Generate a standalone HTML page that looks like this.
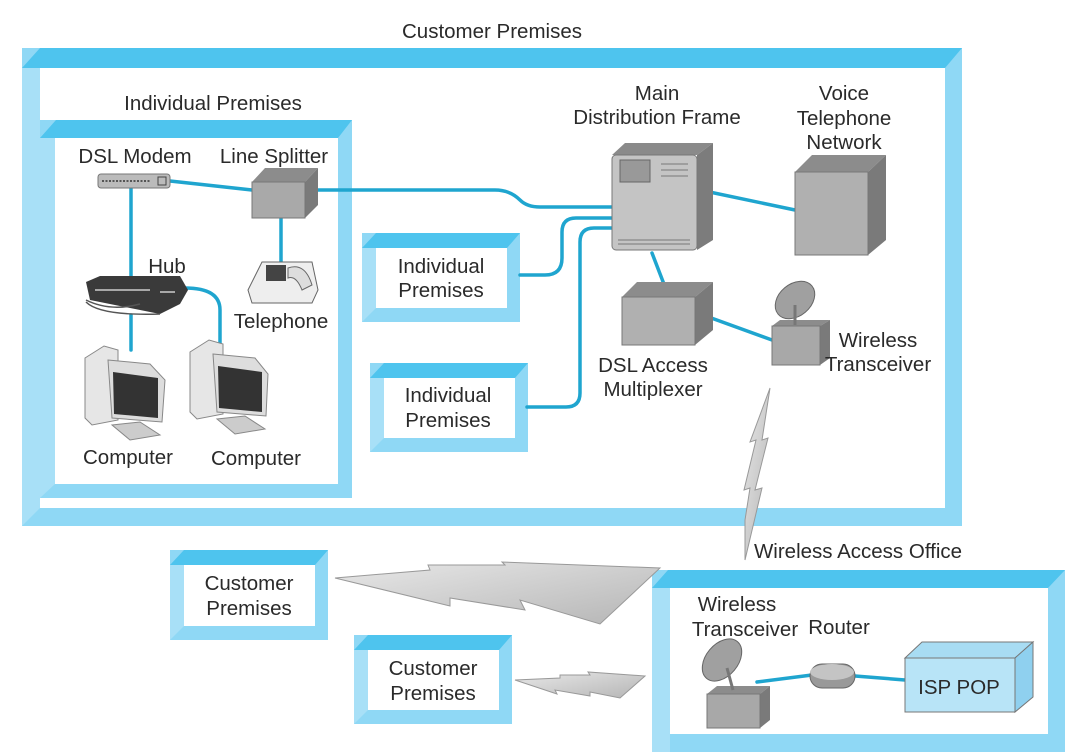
<!DOCTYPE html>
<html><head><meta charset="utf-8"><style>
html,body{margin:0;padding:0;background:#fff;}
svg{display:block;}
text{font-family:"Liberation Sans",sans-serif;font-size:20.5px;fill:#2a2a2a;text-anchor:middle;}
</style></head><body>
<svg width="1080" height="752" viewBox="0 0 1080 752" xmlns="http://www.w3.org/2000/svg">
<defs>
<linearGradient id="bolt" x1="0" y1="0" x2="1" y2="1"><stop offset="0" stop-color="#e8e8e8"/><stop offset="1" stop-color="#b5b5b5"/></linearGradient>
</defs>

<rect x="22" y="48" width="940" height="478" fill="#8fd8f5"/>
<polygon points="22,68 40,48 962,48 945,68" fill="#4ec4ee"/>
<polygon points="22,68 40,68 40,508 22,526" fill="#a8e0f7"/>
<rect x="40" y="68" width="905" height="440" fill="#fff"/>

<rect x="40" y="120" width="312" height="378" fill="#8fd8f5"/>
<polygon points="40,138 56,120 352,120 338,138" fill="#4ec4ee"/>
<polygon points="40,138 55,138 55,484 40,498" fill="#a8e0f7"/>
<rect x="55" y="138" width="283" height="346" fill="#fff"/>

<g>
<rect x="362" y="233" width="158" height="89" fill="#8fd8f5"/>
<polygon points="362,248 376,233 520,233 507,248" fill="#4ec4ee"/>
<polygon points="362,248 376,248 376,308 362,322" fill="#a8e0f7"/>
<rect x="376" y="248" width="131" height="60" fill="#fff"/>
</g>
<g>
<rect x="370" y="363" width="158" height="89" fill="#8fd8f5"/>
<polygon points="370,378 384,363 528,363 515,378" fill="#4ec4ee"/>
<polygon points="370,378 384,378 384,438 370,452" fill="#a8e0f7"/>
<rect x="384" y="378" width="131" height="60" fill="#fff"/>
</g>
<g>
<rect x="170" y="550" width="158" height="90" fill="#8fd8f5"/>
<polygon points="170,565 184,550 328,550 315,565" fill="#4ec4ee"/>
<polygon points="170,565 184,565 184,626 170,640" fill="#a8e0f7"/>
<rect x="184" y="565" width="131" height="61" fill="#fff"/>
</g>
<g>
<rect x="354" y="635" width="158" height="89" fill="#8fd8f5"/>
<polygon points="354,650 368,635 512,635 499,650" fill="#4ec4ee"/>
<polygon points="354,650 368,650 368,710 354,724" fill="#a8e0f7"/>
<rect x="368" y="650" width="131" height="60" fill="#fff"/>
</g>
<rect x="652" y="570" width="413" height="182" fill="#8fd8f5"/>
<polygon points="652,588 668,570 1065,570 1048,588" fill="#4ec4ee"/>
<polygon points="652,588 670,588 670,752 652,752" fill="#a8e0f7"/>
<rect x="670" y="588" width="378" height="146" fill="#fff"/>

<g fill="none" stroke="#1fa5cf" stroke-width="3.5" stroke-linecap="round">
<path d="M170,181 L252,190"/>
<path d="M305,190 L495,190 Q510,190 520,200 Q527,207 540,207 L612,207"/>
<path d="M520,275 L545,275 Q562,275 562,258 L562,232 Q562,218 576,218 L612,218"/>
<path d="M527,407 L566,407 Q580,407 580,393 L580,242 Q580,228 594,228 L612,228"/>
<path d="M700,190 L795,210"/>
<path d="M652,253 L667,292"/>
<path d="M703,315 L772,340"/>
<path d="M131,188 L131,280"/>
<path d="M131,315 L131,350"/>
<path d="M185,288 Q220,288 220,310 L220,345"/>
<path d="M281,218 L281,262"/>
<path d="M757,682 L812,675"/>
<path d="M855,676 L905,680"/>
</g>

<rect x="98" y="174" width="72" height="14" rx="3" fill="#bbb" stroke="#777"/>
<rect x="158" y="177" width="8" height="8" fill="none" stroke="#444"/>
<line x1="102" y1="181" x2="150" y2="181" stroke="#555" stroke-dasharray="2,1.5" stroke-width="2"/>

<polygon points="252,182 265,168 318,168 305,182" fill="#8c8c8c"/>
<polygon points="305,182 318,168 318,205 305,218" fill="#7a7a7a"/>
<rect x="252" y="182" width="53" height="36" fill="#a9a9a9" stroke="#777"/>

<polygon points="248,290 262,262 312,262 318,290 312,303 252,303" fill="#eee" stroke="#666"/>
<rect x="266" y="265" width="20" height="16" fill="#444"/>
<path d="M288,268 Q305,262 312,285 L302,290 Q296,275 288,278Z" fill="#ddd" stroke="#666"/>

<polygon points="86,282 100,276 180,276 188,290 180,304 160,314 90,300" fill="#3a3a3a"/>
<g stroke="#ccc" stroke-width="1.5"><line x1="95" y1="290" x2="150" y2="290"/><line x1="160" y1="292" x2="175" y2="292"/></g>
<path d="M86,300 Q110,312 140,304" stroke="#555" stroke-width="1.5" fill="none"/>
<path d="M86,302 Q100,316 160,314" stroke="#555" stroke-width="1.5" fill="none"/>

<g>
<polygon points="85,358 104,346 118,350 118,420 92,425 85,418" fill="#e6e6e6" stroke="#888"/>
<polygon points="108,360 150,364 165,380 162,422 112,418" fill="#ddd" stroke="#888"/>
<polygon points="113,372 158,378 158,418 114,414" fill="#333"/>
<polygon points="112,425 140,422 160,435 130,440" fill="#ccc" stroke="#888"/>
</g>
<g>
<polygon points="190,352 209,340 223,344 223,414 197,419 190,412" fill="#e6e6e6" stroke="#888"/>
<polygon points="213,354 255,358 268,374 266,416 217,412" fill="#ddd" stroke="#888"/>
<polygon points="218,366 262,372 262,412 219,408" fill="#333"/>
<polygon points="217,419 245,416 265,429 235,434" fill="#ccc" stroke="#888"/>
</g>

<polygon points="612,155 625,143 713,143 697,155" fill="#8a8a8a"/>
<polygon points="697,155 713,143 713,240 697,250" fill="#7c7c7c"/>
<rect x="612" y="155" width="85" height="95" rx="4" fill="#c4c4c4" stroke="#777"/>
<rect x="620" y="160" width="30" height="22" fill="#999" stroke="#666"/>
<g stroke="#777"><line x1="661" y1="164" x2="688" y2="164"/><line x1="661" y1="170" x2="688" y2="170"/><line x1="661" y1="176" x2="688" y2="176"/><line x1="618" y1="240" x2="690" y2="240"/><line x1="618" y1="244" x2="690" y2="244"/></g>

<polygon points="795,172 812,155 886,155 868,172" fill="#8c8c8c"/>
<polygon points="868,172 886,155 886,240 868,255" fill="#7a7a7a"/>
<rect x="795" y="172" width="73" height="83" fill="#b0b0b0" stroke="#777"/>

<polygon points="622,297 637,282 713,282 695,297" fill="#8c8c8c"/>
<polygon points="695,297 713,282 713,330 695,345" fill="#7a7a7a"/>
<rect x="622" y="297" width="73" height="48" fill="#b0b0b0" stroke="#777"/>

<polygon points="772,326 780,320 830,320 820,326" fill="#8c8c8c"/>
<polygon points="820,326 830,320 830,358 820,365" fill="#7a7a7a"/>
<rect x="772" y="326" width="48" height="39" fill="#a8a8a8" stroke="#777"/>
<ellipse cx="795" cy="300" rx="22" ry="16" transform="rotate(-40 795 300)" fill="#a0a0a0" stroke="#666"/>
<line x1="795" y1="305" x2="795" y2="325" stroke="#777" stroke-width="3"/>

<polygon points="707,694 717,686 770,686 760,694" fill="#8c8c8c"/>
<polygon points="760,694 770,686 770,720 760,728" fill="#7a7a7a"/>
<rect x="707" y="694" width="53" height="34" fill="#a8a8a8" stroke="#777"/>
<ellipse cx="722" cy="660" rx="24" ry="16" transform="rotate(-50 722 660)" fill="#a0a0a0" stroke="#666"/>
<line x1="727" y1="668" x2="733" y2="690" stroke="#777" stroke-width="3"/>

<rect x="810" y="664" width="45" height="24" rx="12" fill="#999" stroke="#666"/>
<ellipse cx="832" cy="672" rx="22" ry="8" fill="#c4c4c4"/>

<polygon points="905,658 922,642 1033,642 1015,658" fill="#a8dcf3" stroke="#777"/>
<polygon points="1015,658 1033,642 1033,697 1015,712" fill="#8fd0ef" stroke="#777"/>
<rect x="905" y="658" width="110" height="54" fill="#b8e4f7" stroke="#777"/>

<polygon points="770,388 762,440 768,438 755,490 762,488 745,560 745,520 750,488 744,490 756,440 750,442" fill="url(#bolt)" stroke="#999"/>
<polygon points="335,578 430,570 428,565 505,565 502,562 660,568 600,624 520,600 525,610 450,598 450,606" fill="url(#bolt)" stroke="#999"/>
<polygon points="515,680 560,678 560,675 590,675 588,672 645,676 620,698 590,692 590,696 555,690 557,694" fill="url(#bolt)" stroke="#999"/>

<text x="492" y="38">Customer Premises</text>
<text x="213" y="110">Individual Premises</text>
<text x="135" y="163">DSL Modem</text>
<text x="274" y="163">Line Splitter</text>
<text x="657" y="100">Main</text>
<text x="657" y="124">Distribution Frame</text>
<text x="844" y="100">Voice</text>
<text x="844" y="125">Telephone</text>
<text x="844" y="149">Network</text>
<text x="167" y="273">Hub</text>
<text x="281" y="328">Telephone</text>
<text x="128" y="464">Computer</text>
<text x="256" y="465">Computer</text>
<text x="441" y="273">Individual</text>
<text x="441" y="297">Premises</text>
<text x="448" y="402">Individual</text>
<text x="448" y="427">Premises</text>
<text x="653" y="372">DSL Access</text>
<text x="653" y="396">Multiplexer</text>
<text x="878" y="347">Wireless</text>
<text x="878" y="371">Transceiver</text>
<text x="858" y="558">Wireless Access Office</text>
<text x="249" y="590">Customer</text>
<text x="249" y="615">Premises</text>
<text x="433" y="675">Customer</text>
<text x="433" y="700">Premises</text>
<text x="737" y="611">Wireless</text>
<text x="745" y="636">Transceiver</text>
<text x="839" y="634">Router</text>
<text x="959" y="694">ISP POP</text>
</svg>
</body></html>
